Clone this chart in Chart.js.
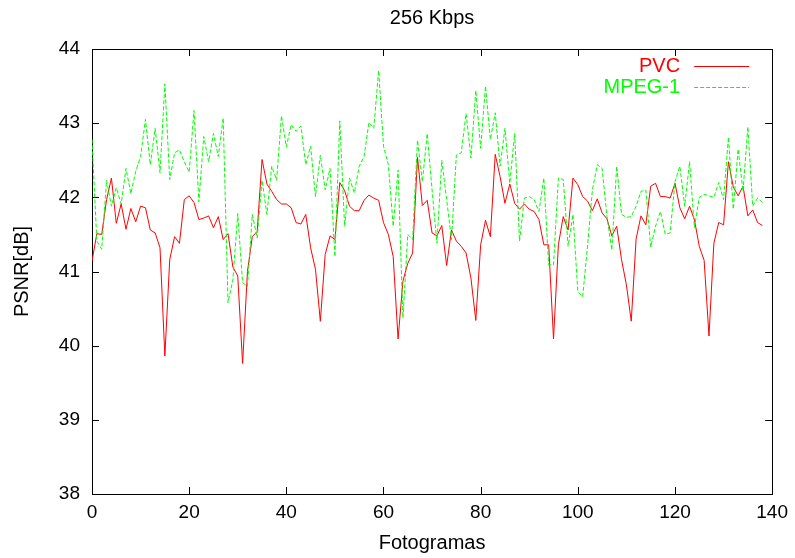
<!DOCTYPE html>
<html>
<head>
<meta charset="utf-8">
<script src="https://cdn.jsdelivr.net/npm/chart.js@4.4.0/dist/chart.umd.min.js"></script>
<style>
  html, body { margin: 0; padding: 0; background: #fff; }
</style>
</head>
<body>
<canvas id="chart" width="795" height="558"></canvas>
<script>
// PSNR per frame (frames 0..138)
const pvc = [
    41.14, 41.51, 41.50, 41.97, 42.26, 41.65, 41.91, 41.57, 41.85, 41.67,
    41.88, 41.86, 41.56, 41.52, 41.32, 39.86, 41.16, 41.47, 41.38, 41.97,
    42.02, 41.93, 41.70, 41.72, 41.75, 41.59, 41.74, 41.43, 41.51, 41.06,
    40.94, 39.76, 41.00, 41.47, 41.54, 42.51, 42.18, 42.08, 41.97, 41.91,
    41.91, 41.86, 41.66, 41.64, 41.77, 41.32, 41.03, 40.33, 41.23, 41.48,
    41.43, 42.20, 42.09, 41.88, 41.82, 41.82, 41.96, 42.03, 41.99, 41.96,
    41.66, 41.50, 41.20, 40.09, 40.87, 41.11, 41.25, 42.54, 41.89, 41.96,
    41.52, 41.48, 41.62, 41.08, 41.56, 41.41, 41.34, 41.25, 40.91, 40.34,
    41.36, 41.69, 41.47, 42.58, 42.28, 41.92, 42.18, 41.92, 41.84, 41.91,
    41.84, 41.81, 41.70, 41.36, 41.36, 40.09, 41.36, 41.74, 41.56, 42.26,
    42.17, 42.01, 41.95, 41.82, 41.98, 41.79, 41.71, 41.48, 41.61, 41.16,
    40.82, 40.33, 41.44, 41.75, 41.63, 42.15, 42.19, 42.01, 42.01, 41.99,
    42.19, 41.86, 41.71, 41.88, 41.70, 41.34, 41.15, 40.13, 41.38, 41.66,
    41.63, 42.48, 42.14, 42.02, 42.15, 41.75, 41.83, 41.66, 41.62
]

const mpeg1 = [
    42.78, 41.41, 41.30, 42.23, 41.88, 42.13, 41.91, 42.39, 42.05, 42.35,
    42.55, 43.05, 42.44, 42.93, 42.33, 43.53, 42.24, 42.60, 42.64, 42.48,
    42.34, 43.17, 41.94, 42.82, 42.48, 42.86, 42.55, 43.07, 40.58, 40.89,
    41.78, 40.85, 40.80, 41.77, 41.45, 42.23, 41.77, 42.42, 42.23, 43.10,
    42.68, 42.98, 42.89, 42.96, 42.44, 42.69, 42.01, 42.57, 42.10, 42.39,
    41.20, 43.03, 41.61, 42.26, 42.06, 42.42, 42.55, 43.01, 42.93, 43.71,
    42.69, 42.44, 41.61, 42.37, 40.37, 41.50, 41.43, 42.77, 42.21, 42.86,
    42.10, 41.38, 42.50, 41.97, 41.43, 42.57, 42.60, 43.13, 42.53, 43.44,
    42.66, 43.50, 42.78, 43.14, 42.42, 42.93, 42.19, 42.86, 41.41, 41.99,
    42.01, 41.97, 41.81, 42.26, 41.09, 41.09, 42.26, 42.24, 41.34, 41.77,
    40.73, 40.66, 41.34, 42.10, 42.44, 42.39, 41.74, 41.29, 42.42, 41.77,
    41.73, 41.74, 41.88, 42.08, 42.10, 41.33, 41.61, 41.81, 41.50, 41.52,
    42.21, 42.42, 41.88, 42.48, 41.59, 42.00, 42.04, 42.02, 42.00, 42.20,
    41.97, 42.81, 41.84, 42.65, 42.08, 42.95, 41.88, 41.99, 41.93
]

const x_ticks = [0, 20, 40, 60, 80, 100, 120, 140]
const y_ticks = [38, 39, 40, 41, 42, 43, 44]

const FONT = '"Liberation Sans", Arial, sans-serif'

// x is just the frame number (position in the array)
function to_points(values) {
    return values.map((v, i) => ({x: i, y: v}))
}

// gnuplot style box with ticks pointing inwards on all 4 sides
const frame_plugin = {
    id: 'frame',
    beforeDatasetsDraw(chart) {
        const ctx = chart.ctx
        const a = chart.chartArea
        const sx = chart.scales.x
        const sy = chart.scales.y
        const tick = 7
        ctx.save()
        ctx.strokeStyle = '#000'
        ctx.lineWidth = 1
        ctx.beginPath()
        x_ticks.forEach(v => {
            const px = Math.round(sx.getPixelForValue(v)) + 0.5
            ctx.moveTo(px, a.bottom)
            ctx.lineTo(px, a.bottom - tick)
            ctx.moveTo(px, a.top)
            ctx.lineTo(px, a.top + tick)
        })
        y_ticks.forEach(v => {
            const py = Math.round(sy.getPixelForValue(v)) + 0.5
            ctx.moveTo(a.left, py)
            ctx.lineTo(a.left + tick, py)
            ctx.moveTo(a.right, py)
            ctx.lineTo(a.right - tick, py)
        })
        ctx.stroke()
        ctx.strokeRect(Math.round(a.left) + 0.5, Math.round(a.top) + 0.5,
                       Math.round(a.width), Math.round(a.height))
        ctx.restore()
    }
}

// key in the top right corner: label first, then the line sample
const key_plugin = {
    id: 'key',
    afterDraw(chart) {
        const ctx = chart.ctx
        const a = chart.chartArea
        chart.data.datasets.forEach((ds, i) => {
            const y = Math.round(a.top + 17 + i * 21) + 0.5
            ctx.save()
            ctx.font = '20px ' + FONT
            ctx.fillStyle = ds.borderColor
            ctx.textAlign = 'right'
            ctx.textBaseline = 'middle'
            ctx.fillText(ds.label, a.right - 92, y)
            ctx.strokeStyle = ds.borderColor
            ctx.lineWidth = 1
            ctx.setLineDash(ds.borderDash || [])
            ctx.beginPath()
            ctx.moveTo(a.right - 78, y)
            ctx.lineTo(a.right - 23, y)
            ctx.stroke()
            ctx.restore()
        })
    }
}

const data = {
    datasets: [
        {
            label: 'PVC',
            data: to_points(pvc),
            borderColor: '#ff0000',
            borderWidth: 1,
            pointRadius: 0,
            tension: 0,
            order: 1
        },
        {
            label: 'MPEG-1',
            data: to_points(mpeg1),
            borderColor: '#00ff00',
            borderWidth: 1,
            borderDash: [4, 2],
            pointRadius: 0,
            tension: 0,
            order: 0
        }
    ]
}

const config = {
    type: 'line',
    data: data,
    options: {
        responsive: false,
        animation: false,
        layout: {padding: {left: 0, right: 20, top: 0, bottom: 0}},
        plugins: {
            legend: {display: false},
            tooltip: {enabled: false},
            title: {
                display: true,
                text: '256 Kbps',
                fullSize: false,
                color: '#000',
                font: {family: FONT, size: 20, weight: 'normal'},
                padding: {top: 6, bottom: 19}
            }
        },
        scales: {
            x: {
                type: 'linear',
                min: 0,
                max: 140,
                afterBuildTicks: s => { s.ticks = x_ticks.map(v => ({value: v})) },
                afterFit: s => { s.height = 64 },
                ticks: {color: '#000', padding: 7, maxRotation: 0, font: {family: FONT, size: 19}},
                grid: {display: false, drawTicks: false},
                border: {display: false},
                title: {
                    display: true,
                    text: 'Fotogramas',
                    color: '#000',
                    font: {family: FONT, size: 20},
                    padding: {top: 0, bottom: 3}
                }
            },
            y: {
                type: 'linear',
                min: 38,
                max: 44,
                afterBuildTicks: s => { s.ticks = y_ticks.map(v => ({value: v})) },
                afterFit: s => { s.width = 92 },
                ticks: {color: '#000', padding: 12, font: {family: FONT, size: 19}},
                grid: {display: false, drawTicks: false},
                border: {display: false},
                title: {
                    display: true,
                    text: 'PSNR[dB]',
                    color: '#000',
                    font: {family: FONT, size: 20},
                    padding: {top: 10, bottom: 0}
                }
            }
        }
    },
    plugins: [frame_plugin, key_plugin]
}

new Chart(document.getElementById('chart'), config)
</script>
</body>
</html>
